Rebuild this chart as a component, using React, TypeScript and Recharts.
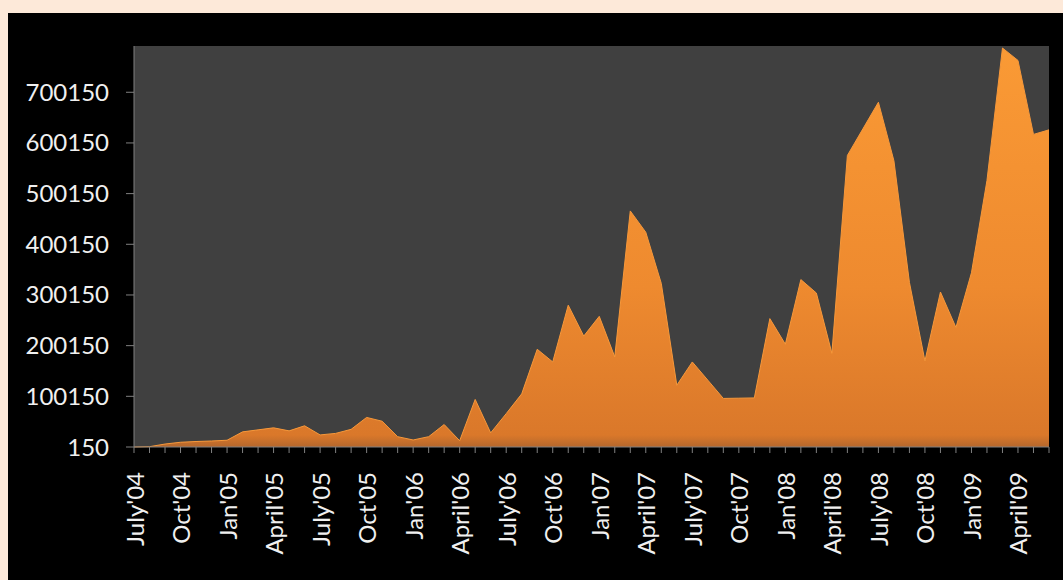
import React from 'react';
import { AreaChart, Area, XAxis, YAxis, CartesianGrid } from 'recharts';

const months = [
  "July'04", "Aug'04", "Sep'04", "Oct'04", "Nov'04", "Dec'04",
  "Jan'05", "Feb'05", "Mar'05", "April'05", "May'05", "June'05",
  "July'05", "Aug'05", "Sep'05", "Oct'05", "Nov'05", "Dec'05",
  "Jan'06", "Feb'06", "Mar'06", "April'06", "May'06", "June'06",
  "July'06", "Aug'06", "Sep'06", "Oct'06", "Nov'06", "Dec'06",
  "Jan'07", "Feb'07", "Mar'07", "April'07", "May'07", "June'07",
  "July'07", "Aug'07", "Sep'07", "Oct'07", "Nov'07", "Dec'07",
  "Jan'08", "Feb'08", "Mar'08", "April'08", "May'08", "June'08",
  "July'08", "Aug'08", "Sep'08", "Oct'08", "Nov'08", "Dec'08",
  "Jan'09", "Feb'09", "Mar'09", "April'09", "May'09", "June'09",
];

const values = [
  150, 800, 6000, 9500, 11000, 12000,
  13500, 30000, 34000, 38000, 32000, 42000,
  24000, 27000, 35000, 58500, 51000, 20500,
  14000, 20500, 44500, 12500, 94000, 28000,
  66000, 105000, 193000, 168000, 280000, 219000,
  258000, 178000, 466000, 424000, 323000, 122000,
  168000, 132000, 96000, 96500, 97000, 253500,
  203000, 330500, 304000, 185000, 575500, 628000,
  680500, 565000, 325000, 170000, 306000, 236000,
  344000, 526000, 787500, 763000, 617000, 626000,
];

const xTickLabels = [
  "July'04", "Oct'04", "Jan'05", "April'05", "July'05", "Oct'05", "Jan'06",
  "April'06", "July'06", "Oct'06", "Jan'07", "April'07", "July'07", "Oct'07",
  "Jan'08", "April'08", "July'08", "Oct'08", "Jan'09", "April'09",
];

const yTicks = [150, 100150, 200150, 300150, 400150, 500150, 600150, 700150];

const data = months.map((m, i) => ({ month: m, value: values[i] }));

const FONT = 'Lato, "Open Sans", sans-serif';
const TEXT = '#F0F0F0';
const AXIS = '#808080';

function MonthTick({ x, y, payload }: { x?: number; y?: number; payload?: { value: string } }) {
  // only every third month gets a label, the rest just keep their tick mark
  if (!payload || !xTickLabels.includes(payload.value)) return null;
  return (
    <text
      x={x}
      y={y}
      transform={`rotate(-90 ${x} ${y})`}
      textAnchor="end"
      dominantBaseline="central"
      fill={TEXT}
      fontSize={24}
      fontFamily={FONT}
    >
      {payload.value}
    </text>
  );
}

export default function App() {
  return (
    <div
      style={{
        position: 'fixed',
        left: 0,
        top: 0,
        width: 1063,
        height: 580,
        background: '#FDE9D9',
        overflow: 'hidden',
      }}
    >
      <div style={{ position: 'absolute', left: 8, top: 13, width: 1055, height: 567, background: '#000' }}>
        <AreaChart
          width={1055}
          height={567}
          data={data}
          margin={{ top: 33, right: 14, bottom: 0, left: 0 }}
        >
          <defs>
            <linearGradient id="orangeFill" x1="0" y1="0" x2="0" y2="1">
              <stop offset="0%" stopColor="#FA9A35" />
              <stop offset="60%" stopColor="#EE8A2F" />
              <stop offset="97%" stopColor="#DA782A" />
              <stop offset="100%" stopColor="#B5672C" />
            </linearGradient>
          </defs>
          <CartesianGrid fill="#404040" stroke="none" horizontal={false} vertical={false} />
          <XAxis
            dataKey="month"
            interval={0}
            height={133}
            tickSize={6}
            tickMargin={19}
            stroke={AXIS}
            tickLine={{ stroke: AXIS }}
            tick={<MonthTick />}
          />
          <YAxis
            type="number"
            domain={[150, 791450]}
            ticks={yTicks}
            interval={0}
            width={126}
            tickSize={8}
            tickMargin={17}
            stroke={AXIS}
            tickLine={{ stroke: AXIS }}
            tick={{ fill: TEXT, fontSize: 24, fontFamily: FONT }}
          />
          <Area
            type="linear"
            dataKey="value"
            stroke="#F7983A"
            strokeWidth={1}
            fill="url(#orangeFill)"
            fillOpacity={1}
            isAnimationActive={false}
          />
        </AreaChart>
      </div>
    </div>
  );
}
